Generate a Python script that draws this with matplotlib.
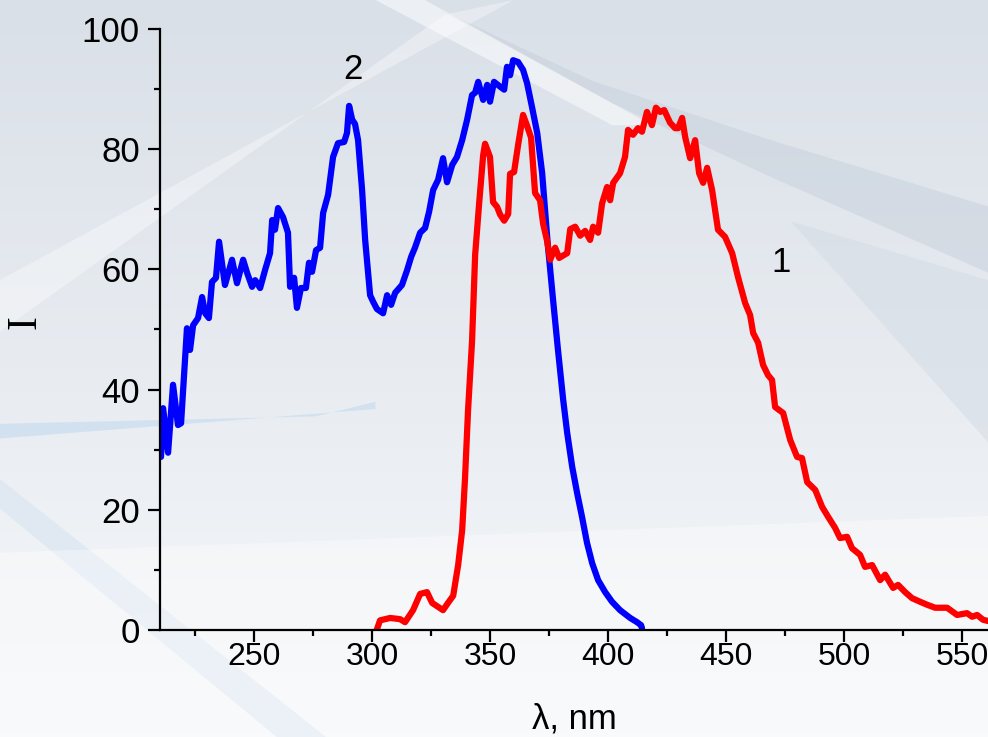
import matplotlib
matplotlib.use('Agg')
import matplotlib.pyplot as plt
import numpy as np
from matplotlib.patches import Polygon
from matplotlib.ticker import MultipleLocator

# curve 2 (blue)
wl_2 = [210.6, 211.5, 213.6, 215.7, 217.8, 219.1, 221.6, 222.9, 224.2, 226.3, 228.0, 229.3, 230.9,
        232.2, 233.9, 235.2, 237.7, 240.7, 242.8, 245.4, 247.1, 249.2, 250.5, 252.6, 254.7, 256.8,
        257.7, 258.9, 260.2, 262.3, 264.4, 265.3, 267.0, 268.2, 269.9, 272.0, 273.3, 274.6, 276.3,
        278.0, 279.3, 281.4, 283.5, 285.6, 288.2, 289.4, 290.3, 291.6, 292.8, 294.1, 295.8, 297.1,
        299.2, 300.5, 302.1, 304.7, 306.4, 308.1, 309.8, 312.7, 314.9, 316.6, 318.2, 320.4, 322.5,
        324.2, 325.9, 328.0, 330.1, 331.8, 334.0, 336.0, 338.2, 340.3, 342.4, 343.7, 345.0, 347.1,
        348.8, 350.0, 351.7, 354.3, 356.0, 357.2, 358.5, 359.8, 361.9, 364.0, 365.7, 367.8, 370.0,
        372.1, 374.4, 376.7, 378.8, 381.0, 382.7, 384.8, 386.9, 389.0, 391.1, 393.3, 395.8, 398.8,
        401.7, 405.1, 409.4, 412.3, 414.0, 414.4]
int_2 = [28.8, 36.9, 29.5, 40.8, 34.1, 34.4, 50.2, 46.6, 50.7, 51.9, 55.4, 52.7, 51.9,
         57.9, 58.6, 64.6, 57.4, 61.6, 57.7, 61.6, 59.4, 57.1, 58.2, 56.9, 59.9, 62.7,
         68.2, 66.6, 70.2, 68.7, 66.1, 57.1, 58.6, 53.6, 56.9, 56.9, 61.1, 59.6, 63.2,
         63.6, 69.4, 72.4, 78.7, 81.0, 81.2, 82.7, 87.2, 84.9, 84.2, 81.5, 73.2, 64.9,
         55.7, 54.6, 53.4, 52.7, 55.7, 54.1, 56.1, 57.4, 59.9, 62.1, 63.6, 66.1, 66.9,
         69.6, 73.2, 74.9, 78.5, 74.5, 77.4, 78.7, 81.5, 84.9, 89.0, 89.4, 91.2, 88.2,
         90.7, 87.9, 91.2, 90.4, 89.9, 93.7, 92.3, 94.8, 94.5, 93.2, 91.0, 87.0, 82.7,
         76.0, 64.5, 55.0, 46.6, 38.3, 32.8, 27.2, 22.8, 18.8, 14.5, 11.1, 8.3, 6.3,
         4.7, 3.3, 2.0, 1.3, 0.8, 0.3]

# curve 1 (red)
wl_1 = [302.0, 303.4, 307.7, 311.9, 314.0, 317.4, 320.4, 323.3, 325.5, 330.1, 332.2, 334.4, 336.5,
        338.2, 339.4, 340.7, 342.4, 343.7, 345.4, 347.1, 347.9, 350.0, 351.3, 353.0, 354.3, 356.0,
        357.7, 358.5, 360.2, 361.9, 364.0, 365.7, 367.4, 369.1, 371.2, 372.5, 374.2, 375.5, 377.6,
        379.3, 382.7, 384.0, 386.1, 388.2, 390.3, 392.4, 393.7, 395.8, 397.5, 399.6, 400.9, 402.2,
        405.1, 407.2, 408.5, 410.6, 412.7, 414.4, 416.5, 418.6, 420.3, 422.1, 423.8, 426.3, 428.4,
        429.7, 431.4, 432.7, 434.8, 436.9, 438.6, 440.3, 442.0, 444.1, 446.6, 449.6, 452.6, 455.1,
        458.1, 460.2, 461.5, 463.6, 465.7, 467.8, 469.5, 470.8, 474.2, 477.2, 480.1, 482.2, 484.4,
        487.8, 490.7, 493.3, 496.2, 498.3, 501.3, 503.4, 506.8, 508.9, 511.9, 515.3, 517.4, 520.8,
        522.9, 525.9, 528.8, 532.2, 535.2, 538.6, 543.7, 547.9, 552.1, 554.3, 556.4, 558.9, 561.0]
int_1 = [0.0, 1.6, 2.0, 1.8, 1.3, 3.3, 6.0, 6.3, 4.5, 3.3, 4.5, 5.7, 10.8,
         16.6, 25.1, 36.6, 48.1, 62.4, 71.0, 79.0, 80.9, 78.7, 71.2, 70.4, 69.1, 68.1,
         69.2, 75.9, 76.2, 80.7, 85.7, 83.9, 81.9, 72.7, 71.5, 67.6, 64.7, 61.6, 63.6,
         61.9, 62.7, 66.7, 67.1, 65.6, 66.4, 64.9, 67.1, 66.1, 71.0, 73.7, 71.5, 74.4,
         76.0, 78.7, 83.2, 82.4, 83.5, 82.9, 86.2, 84.0, 86.9, 86.2, 86.5, 84.4, 83.5,
         83.5, 85.2, 82.0, 78.5, 81.5, 76.0, 74.4, 76.9, 73.2, 66.6, 65.4, 62.7, 58.7,
         54.4, 52.4, 49.4, 47.8, 44.1, 42.4, 41.6, 37.1, 36.1, 31.6, 28.8, 28.6, 24.6,
         23.3, 20.5, 18.8, 17.0, 15.3, 15.5, 13.6, 12.5, 10.5, 10.8, 8.3, 9.2, 7.0,
         7.5, 6.3, 5.3, 4.7, 4.2, 3.7, 3.7, 2.5, 2.8, 2.2, 2.5, 1.7, 1.5]

fig = plt.figure(figsize=(9.88, 7.37), dpi=100)

# soft grey-blue backdrop (decoration only)
bg = fig.add_axes([0, 0, 1, 1], zorder=-2)
t = np.linspace(0, 1, 150)[:, None] * np.ones((1, 200))
top = np.array([218, 224, 232]) / 255.0
bot = np.array([246, 248, 250]) / 255.0
img = top[None, None, :] * (1 - t[..., None]) + bot[None, None, :] * t[..., None]
bg.imshow(img, extent=[0, 1, 0, 1], origin='upper', aspect='auto')
bg.add_patch(Polygon([[0.0, 0.55], [0.45, 0.98], [0.52, 1.0], [0.0, 0.62]], closed=True, fc='white', alpha=0.35, lw=0))
bg.add_patch(Polygon([[0.44, 0.99], [0.6, 0.89], [0.78, 0.81], [1.0, 0.72], [1.0, 0.63], [0.78, 0.76], [0.62, 0.86]],
                     closed=True, fc='#c3cdd9', alpha=0.45, lw=0))
bg.add_patch(Polygon([[0.38, 1.0], [0.62, 0.83], [0.66, 0.83], [0.43, 1.0]], closed=True, fc='white', alpha=0.5, lw=0))
bg.add_patch(Polygon([[0.0, 0.425], [0.32, 0.435], [0.38, 0.455], [0.38, 0.445], [0.0, 0.405]], closed=True,
                     fc='#c9dcef', alpha=0.7, lw=0))
bg.add_patch(Polygon([[0.0, 0.31], [0.28, 0.0], [0.33, 0.0], [0.0, 0.35]], closed=True, fc='#dbe6f2', alpha=0.7, lw=0))
bg.add_patch(Polygon([[0.0, 0.0], [1.0, 0.0], [1.0, 0.3], [0.0, 0.25]], closed=True, fc='white', alpha=0.35, lw=0))
bg.add_patch(Polygon([[0.8, 0.7], [1.0, 0.62], [1.0, 0.4], [0.9, 0.55]], closed=True, fc='#d3dbe4', alpha=0.5, lw=0))
bg.set_xlim(0, 1)
bg.set_ylim(0, 1)
bg.axis('off')

ax = fig.add_axes([0.162, 0.1452, 0.838, 0.8155])
ax.patch.set_alpha(0)
ax.plot(wl_2, int_2, color='#0000ff', lw=4.5, solid_joinstyle='round', solid_capstyle='round')
ax.plot(wl_1, int_1, color='#ff0000', lw=4.5, solid_joinstyle='round', solid_capstyle='round')

ax.set_xlim(210.2, 561)
ax.set_ylim(0, 100)
for side in ['top', 'right']:
    ax.spines[side].set_visible(False)
for side in ['left', 'bottom']:
    ax.spines[side].set_linewidth(1.6)
ax.xaxis.set_major_locator(MultipleLocator(50))
ax.xaxis.set_minor_locator(MultipleLocator(25))
ax.yaxis.set_major_locator(MultipleLocator(20))
ax.yaxis.set_minor_locator(MultipleLocator(10))
ax.tick_params(which='major', direction='out', length=8.5, width=1.6)
ax.tick_params(which='minor', direction='out', length=4.3, width=1.6)
ax.tick_params(axis='y', labelsize=25, pad=6)
ax.tick_params(axis='x', labelsize=23, pad=0)
for lab in ax.get_xticklabels() + ax.get_yticklabels():
    lab.set_family('Liberation Sans')

ax.text(292, 93.2, '2', fontsize=25, family='Liberation Sans', ha='center', va='center')
ax.text(473.4, 61.1, '1', fontsize=25, family='Liberation Sans', ha='center', va='center')

ax.set_xlabel('λ, nm', fontsize=25, family='Liberation Sans', labelpad=22)
fig.text(0.026, 0.563, 'I', fontsize=30, family='Liberation Serif', rotation=90, ha='center', va='center')

fig.savefig('out.png', dpi=100)
